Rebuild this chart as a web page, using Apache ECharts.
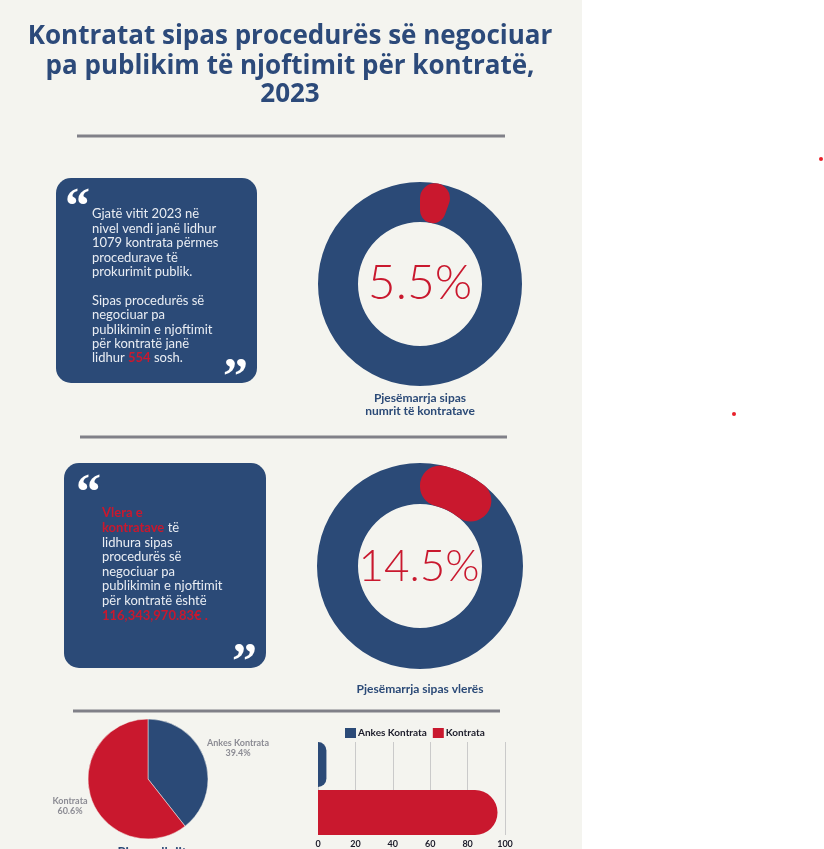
<!DOCTYPE html>
<html>
<head>
<meta charset="utf-8">
<script src="https://cdn.jsdelivr.net/npm/echarts@6/dist/echarts.min.js"></script>
<style>
html, body { margin: 0; padding: 0; background: #fff; }
#main { width: 824px; height: 849px; }
</style>
</head>
<body>
<div id="main"></div>
<script>
// data
var titleLines = ['Kontratat sipas procedurës së negociuar', 'pa publikim të njoftimit për kontratë,', '2023'];
var totalContracts = 1079;
var negotiatedCount = 554;
var negotiatedValue = '116,343,970.83€';
var shareValues = [5.5, 14.5];
var shareCaptions = ['Pjesëmarrja sipas\nnumrit të kontratave', 'Pjesëmarrja sipas vlerës'];
var pieNames = ['Ankes Kontrata', 'Kontrata'];
var pieValues = [39.4, 60.6];
var barNames = ['Ankes Kontrata', 'Kontrata'];
var barValues = [4.5, 96];
var barCategories = ['Lloji'];

var BLUE = '#2b4a77';
var RED = '#c9182e';
var PANEL = '#f4f4ef';
var bodyFont = 'Lato, "Open Sans", sans-serif';
var quoteFont = 'bold 50px "Liberation Serif"';

var dom = document.getElementById('main');
var myChart = echarts.init(dom);

var box1Text = [
    'Gjatë vitit 2023 në',
    'nivel vendi janë lidhur',
    totalContracts + ' kontrata përmes',
    'procedurave të',
    'prokurimit publik.',
    '',
    'Sipas procedurës së',
    'negociuar pa',
    'publikimin e njoftimit',
    'për kontratë janë',
    'lidhur {r|' + negotiatedCount + '} sosh.'
].join('\n');

var box2Text = [
    '{r|Vlera e}',
    '{r|kontratave} të',
    'lidhura sipas',
    'procedurës së',
    'negociuar pa',
    'publikimin e njoftimit',
    'për kontratë është',
    '{r|' + negotiatedValue + ' .}'
].join('\n');

function bodyRich(lh) {
    return {
        r: { fill: RED, fontWeight: 'bold', fontSize: 13, fontFamily: bodyFont, lineHeight: lh }
    };
}

var graphics = [
    { type: 'rect', z: -10, shape: { x: 0, y: 0, width: 582, height: 849 }, style: { fill: PANEL } },
    { type: 'circle', shape: { cx: 821, cy: 159, r: 2 }, style: { fill: '#e8202a' } },
    { type: 'circle', shape: { cx: 734, cy: 414, r: 2 }, style: { fill: '#e8202a' } },
    // dividers
    { type: 'line', shape: { x1: 77, y1: 136, x2: 505, y2: 136 }, style: { stroke: '#808088', lineWidth: 3 } },
    { type: 'line', shape: { x1: 80, y1: 437, x2: 507, y2: 437 }, style: { stroke: '#808088', lineWidth: 3 } },
    { type: 'line', shape: { x1: 73, y1: 711, x2: 500, y2: 711 }, style: { stroke: '#808088', lineWidth: 3 } },
    // quote boxes
    { type: 'rect', z: -5, shape: { x: 56, y: 178, width: 201, height: 205, r: 15 }, style: { fill: BLUE } },
    { type: 'rect', z: -5, shape: { x: 64, y: 463, width: 202, height: 205, r: 15 }, style: { fill: BLUE } },
    { type: 'text', x: 65, y: 184, style: { text: '\u201C', fill: '#fff', font: quoteFont } },
    { type: 'text', x: 223, y: 354, style: { text: '\u201D', fill: '#fff', font: quoteFont } },
    { type: 'text', x: 76, y: 470, style: { text: '\u201C', fill: '#fff', font: quoteFont } },
    { type: 'text', x: 232, y: 639, style: { text: '\u201D', fill: '#fff', font: quoteFont } },
    {
        type: 'text', x: 92, y: 207,
        style: {
            text: box1Text, fill: '#e9edf3', fontSize: 13, fontFamily: bodyFont,
            lineHeight: 14.4, verticalAlign: 'top', rich: bodyRich(14.4)
        }
    },
    {
        type: 'text', x: 102, y: 506,
        style: {
            text: box2Text, fill: '#e9edf3', fontSize: 13, fontFamily: bodyFont,
            lineHeight: 14.6, verticalAlign: 'top', rich: bodyRich(14.6)
        }
    },
    // donut captions
    {
        type: 'text', x: 420, y: 392,
        style: { text: shareCaptions[0], fill: BLUE, font: 'bold 12px ' + bodyFont, align: 'center', verticalAlign: 'top', lineHeight: 13 }
    },
    {
        type: 'text', x: 420, y: 683,
        style: { text: shareCaptions[1], fill: BLUE, font: 'bold 12px ' + bodyFont, align: 'center', verticalAlign: 'top' }
    },
    {
        type: 'text', x: 420, y: 284,
        style: { text: shareValues[0] + '%', fill: RED, font: '300 48px ' + bodyFont, align: 'center', verticalAlign: 'middle' }
    },
    {
        type: 'text', x: 419, y: 567,
        style: { text: shareValues[1] + '%', fill: RED, font: '300 44px ' + bodyFont, align: 'center', verticalAlign: 'middle' }
    },
    // pie title, cut off at the bottom edge
    {
        type: 'text', x: 152, y: 846,
        style: { text: 'Pjesa e llojit', fill: BLUE, font: 'bold 13px ' + bodyFont, align: 'center', verticalAlign: 'top' }
    }
];

titleLines.forEach(function (t, i) {
    graphics.push({
        type: 'text', x: 290, y: [37, 67, 95][i],
        style: { text: t, fill: '#2c4a7a', font: 'bold 26px "Open Sans"', align: 'center', verticalAlign: 'middle' }
    });
});

function ringSeries(idx) {
    return {
        type: 'bar',
        coordinateSystem: 'polar',
        polarIndex: idx,
        data: [shareValues[idx]],
        barWidth: '100%',
        showBackground: true,
        backgroundStyle: { color: BLUE, opacity: 1 },
        itemStyle: { color: RED, borderRadius: 20 },
        z: 3
    };
}

option = {
    backgroundColor: '#fff',
    animation: false,
    graphic: { elements: graphics },
    polar: [
        { center: [420, 284], radius: [62, 102] },
        { center: [420, 566], radius: [62, 103] }
    ],
    angleAxis: [
        { polarIndex: 0, max: 100, startAngle: 90, show: false },
        { polarIndex: 1, max: 100, startAngle: 90, show: false }
    ],
    radiusAxis: [
        { polarIndex: 0, type: 'category', data: ['a'], show: false },
        { polarIndex: 1, type: 'category', data: ['a'], show: false }
    ],
    legend: {
        left: 345,
        top: 728,
        padding: 0,
        itemWidth: 11,
        itemHeight: 10,
        itemGap: 6,
        icon: 'rect',
        data: barNames,
        textStyle: { fontSize: 10, fontWeight: 'bold', color: '#1c1c2a', fontFamily: bodyFont, padding: [0, 0, 0, -3] }
    },
    grid: {
        left: 318,
        right: 319,
        top: 742,
        bottom: 13,
        containLabel: false
    },
    xAxis: {
        type: 'value',
        min: 0,
        max: 100,
        interval: 20,
        axisLine: { show: false },
        axisTick: { show: false },
        axisLabel: { fontSize: 9, fontWeight: 'bold', color: '#1c1c2a', fontFamily: bodyFont, margin: 5 },
        splitLine: { lineStyle: { color: '#cacaca' } }
    },
    yAxis: {
        type: 'category',
        inverse: true,
        data: barCategories,
        axisLine: { show: false },
        axisTick: { show: false },
        axisLabel: { show: false }
    },
    series: [
        ringSeries(0),
        ringSeries(1),
        {
            type: 'pie',
            center: [148, 779],
            radius: 60,
            startAngle: 90,
            clockwise: true,
            data: pieNames.map(function (n, i) { return { name: n, value: pieValues[i] }; }),
            color: [BLUE, RED],
            itemStyle: { borderColor: PANEL, borderWidth: 0.5 },
            label: {
                formatter: '{b}\n{d}%',
                color: '#8c8c94',
                fontSize: 9,
                fontWeight: 'bold',
                fontFamily: bodyFont,
                align: 'center',
                lineHeight: 10,
                overflow: 'none',
                width: 100
            },
            labelLine: { show: false },
            labelLayout: function (p) {
                return p.dataIndex === 0
                    ? { x: 238, y: 748, align: 'center', verticalAlign: 'middle' }
                    : { x: 70, y: 806, align: 'center', verticalAlign: 'middle' };
            }
        },
        {
            name: barNames[0],
            type: 'bar',
            data: [barValues[0]],
            barWidth: 45,
            barGap: '7%',
            itemStyle: { color: BLUE, borderRadius: [0, 23, 23, 0] }
        },
        {
            name: barNames[1],
            type: 'bar',
            data: [barValues[1]],
            barWidth: 45,
            barGap: '7%',
            itemStyle: { color: RED, borderRadius: [0, 23, 23, 0] }
        }
    ]
};

if (option && typeof option === 'object') {
    myChart.setOption(option, true);
}
window.addEventListener('resize', function () {
    myChart.resize();
});
</script>
</body>
</html>
